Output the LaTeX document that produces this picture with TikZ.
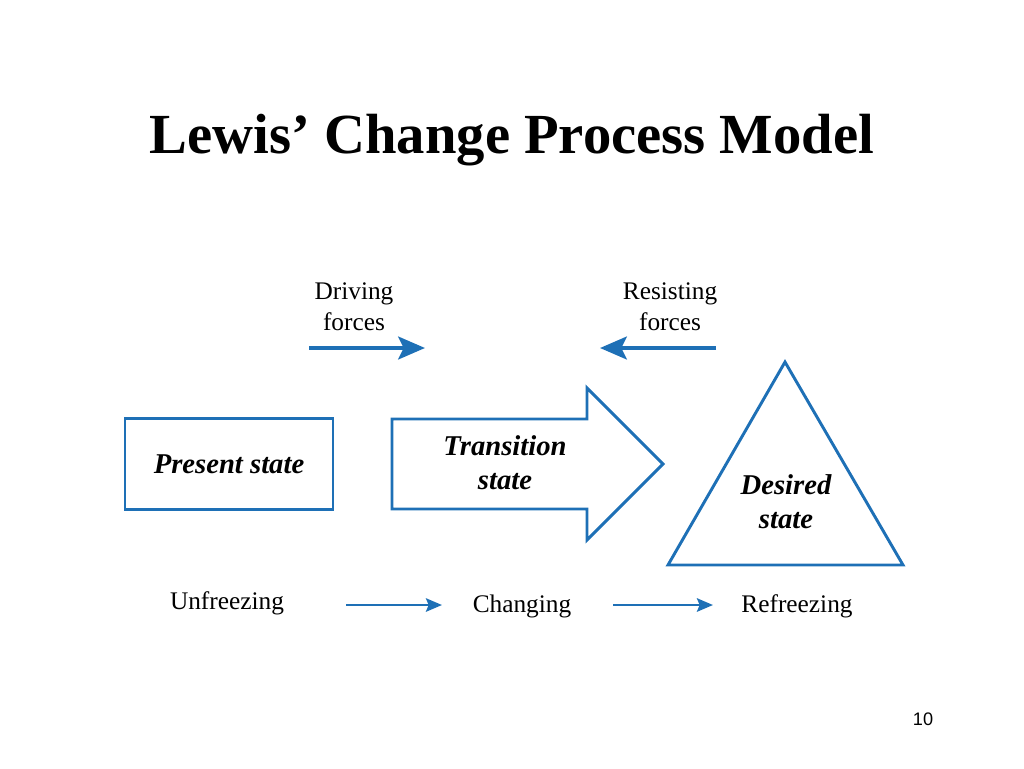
\documentclass[tikz,border=0pt]{standalone}
\usepackage{fontspec}
\setmainfont{Liberation Serif}
\newfontfamily\numfont{Liberation Sans}
\usetikzlibrary{arrows.meta}
\definecolor{lewisblue}{RGB}{30,112,182}
\begin{document}
\begin{tikzpicture}[x=0.75pt,y=-0.75pt,
	outline/.style={draw=lewisblue,line width=2.2pt,line join=miter},
	forcearrow/.style={draw=lewisblue,line width=3.3pt,-{Stealth[length=20pt,width=17pt,inset=4pt]}},
	stagearrow/.style={draw=lewisblue,line width=2.2pt,-{Stealth[length=12pt,width=10pt,inset=2pt]}},
	forcetext/.style={font=\fontsize{19}{23}\selectfont,align=center},
	stagetext/.style={font=\fontsize{19}{23}\selectfont,anchor=base},
	statetext/.style={font=\fontsize{21.5}{25.5}\selectfont\bfseries\itshape,align=center}]
				\useasboundingbox (0,0) rectangle (1024,768);
				% title and page number
				\node[font=\fontsize{42.5}{50}\selectfont\bfseries,anchor=base] (title) at (512,153) {Lewis’ Change Process Model};
				\node[font=\numfont\fontsize{13.6}{16}\selectfont] (page) at (923,719) {10};
				% forces
				\node[forcetext] (driving) at (354,307) {Driving\\forces};
				\node[forcetext] (resisting) at (670,307) {Resisting\\forces};
				\coordinate (drivefrom) at (309,348);
				\coordinate (driveto) at (425,348);
				\coordinate (resistfrom) at (716,348);
				\coordinate (resistto) at (600,348);
				\draw[forcearrow] (drivefrom) -- (driveto);
				\draw[forcearrow] (resistfrom) -- (resistto);
				% the three states
				\node[outline,statetext,minimum width=156pt,minimum height=68pt] (present) at (229,464) {Present state};
				\draw[outline] (392,419) -- (587,419) -- (587,388) -- (663,464) -- (587,540) -- (587,509) -- (392,509) -- cycle;
				\node[statetext] (transition) at (505,463) {Transition\\state};
				\draw[outline] (785,362) -- (903,565) -- (668,565) -- cycle;
				\node[statetext] (desired) at (786,502) {Desired\\state};
				% stages
				\node[stagetext] (unfreezing) at (227,609) {Unfreezing};
				\node[stagetext] (changing) at (522,612) {Changing};
				\node[stagetext] (refreezing) at (797,612) {Refreezing};
				\coordinate (unfreezeend) at (346,605);
				\coordinate (changestart) at (442,605);
				\coordinate (changeend) at (613,605);
				\coordinate (refreezestart) at (713,605);
				\draw[stagearrow] (unfreezeend) -- (changestart);
				\draw[stagearrow] (changeend) -- (refreezestart);
			\end{tikzpicture}
\end{document}
